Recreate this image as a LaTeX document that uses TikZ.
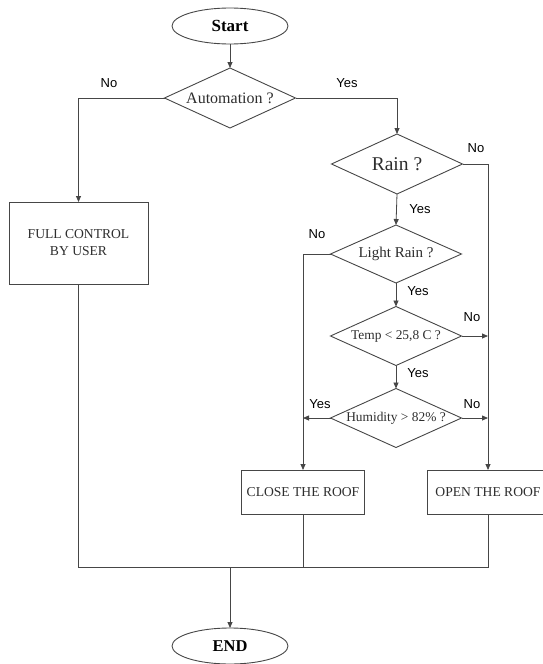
\documentclass[tikz,border=0pt]{standalone}
\usepackage{fontspec}
\setmainfont{Liberation Serif}
\newfontfamily\labfont{Liberation Sans}
\usetikzlibrary{shapes.geometric,arrows.meta}
\definecolor{linec}{RGB}{70,70,70}
\definecolor{textc}{RGB}{45,45,45}
\tikzset{
  shapeline/.style={draw=linec, line width=0.9pt},
  dia/.style={shapeline, diamond, inner sep=0pt, outer sep=0pt},
  oval/.style={shapeline, ellipse, minimum width=116pt, minimum height=36pt, inner sep=0pt, outer sep=0pt, font=\fontsize{17}{19}\selectfont\bfseries, text=black},
  boxnode/.style={shapeline, rectangle, inner sep=0pt, outer sep=0pt, align=center, text=textc, font=\fontsize{13.6}{17}\selectfont},
  conn/.style={draw=linec, line width=0.8pt},
  arr/.style={conn, -{Triangle[length=6pt,width=5pt]}},
  yn/.style={font=\labfont\fontsize{13}{15}\selectfont, text=black, inner sep=0pt},
  dtext/.style={text=textc, inner sep=0pt}
}
\begin{document}
\begin{tikzpicture}[x=1pt,y=-1pt]
\useasboundingbox (0,0) rectangle (542,664);
% nodes
\node[oval] (start) at (230,26) {Start};
\node[dia, minimum width=131pt, minimum height=60pt,
  label={[dtext,font=\fontsize{16}{18}\selectfont]center:Automation ?}] (auto) at (230,98) {};
\node[dia, minimum width=131pt, minimum height=60pt,
  label={[dtext,font=\fontsize{19.5}{22}\selectfont]center:Rain ?}] (rain) at (397,164) {};
\node[dia, minimum width=131pt, minimum height=58pt,
  label={[dtext,font=\fontsize{15}{17}\selectfont]center:Light Rain ?}] (light) at (396,254) {};
\node[dia, minimum width=131pt, minimum height=59pt,
  label={[dtext,font=\fontsize{13.4}{15}\selectfont]center:Temp < 25,8 C ?}] (temp) at (396,336) {};
\node[dia, minimum width=131pt, minimum height=59pt,
  label={[dtext,font=\fontsize{13.4}{15}\selectfont]center:Humidity > 82\% ?}] (hum) at (396,418) {};
\node[boxnode, minimum width=139pt, minimum height=82pt] (full) at (78.5,243) {FULL CONTROL\\BY USER};
\node[boxnode, minimum width=123pt, minimum height=44pt] (close) at (303,492) {CLOSE THE ROOF};
\node[boxnode, minimum width=122pt, minimum height=44pt] (open) at (488,492) {OPEN THE ROOF};
\node[oval, font=\fontsize{16.5}{19}\selectfont\bfseries] (end) at (230,646) {END};
\coordinate (join) at (230,567);
% connectors
\draw[arr] (start) -- (auto.north);
\draw[arr] (auto.west) -| (full.north);
\draw[arr] (auto.east) -| (rain.north);
\draw[arr] (rain.east) -| (open.north);
\draw[arr] (rain.south) -- (light.north);
\draw[arr] (light.west) -| (close.north);
\draw[arr] (light.south) -- (temp.north);
\draw[arr] (temp.east) -- (temp.east -| open.north);
\draw[arr] (temp.south) -- (hum.north);
\draw[arr] (hum.west) -- (hum.west -| close.north);
\draw[arr] (hum.east) -- (hum.east -| open.north);
\draw[conn] (full.south) |- (join);
\draw[conn] (close.south) |- (join);
\draw[conn] (open.south) |- (join);
\draw[arr] (join) -- (end.north);
% labels
\node[yn] (l1) at (109,83) {No};
\node[yn] (l2) at (347,83) {Yes};
\node[yn] (l3) at (476,148) {No};
\node[yn] (l4) at (420,209) {Yes};
\node[yn] (l5) at (317,234) {No};
\node[yn] (l6) at (418,291) {Yes};
\node[yn] (l7) at (472,317) {No};
\node[yn] (l8) at (418,373) {Yes};
\node[yn] (l9) at (320,404) {Yes};
\node[yn] (l10) at (472,404) {No};
\end{tikzpicture}
\end{document}
